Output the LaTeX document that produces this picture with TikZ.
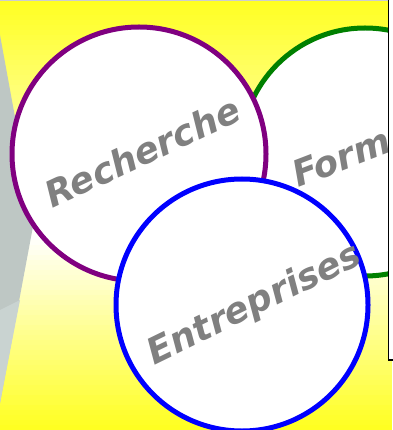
\documentclass[tikz,border=0pt]{standalone}
\usepackage{fontspec}
\setmainfont{DejaVu Sans}
\definecolor{bgyellow}{RGB}{255,255,30}
\definecolor{graydark}{RGB}{190,199,196}
\definecolor{graylight}{RGB}{201,211,209}
\definecolor{ringpurple}{RGB}{128,0,128}
\definecolor{ringgreen}{RGB}{0,128,0}
\definecolor{ringblue}{RGB}{0,0,255}
\definecolor{labelgray}{RGB}{128,128,128}
\definecolor{topline}{RGB}{205,205,205}
\begin{document}
\begin{tikzpicture}[x=1pt,y=-1pt,
  ring/.style={circle,fill=white,line width=5pt,inner sep=0pt,outer sep=0pt},
  label/.style={text=labelgray,font=\fontsize{36}{36}\selectfont\bfseries\itshape,inner sep=0pt}]
\useasboundingbox (0,0) rectangle (392,430);
% background: yellow - white - yellow
\foreach \i in {0,...,85}{
  \pgfmathsetmacro\ya{\i*5}
  \pgfmathsetmacro\yb{\i*5+5.8}
  \pgfmathtruncatemacro\p{max((235-(\i*5+2.5))/235*100, ((\i*5+2.5)-235)/195*100)}
  \fill[bgyellow!\p!white] (0,\ya) rectangle (392,\yb);
}
\draw[line width=1.5pt,draw=topline] (0,0.5) -- (392,0.5);
% gray chevron
\fill[graydark] (0,35) -- (34,221) -- (0,403) -- cycle;
\fill[graylight] (0,310) -- (20,300) -- (0,403) -- cycle;
% circles
\node[ring,draw=ringgreen,minimum size=248pt] (form) at (365,152) {};
\node[label,rotate=21,anchor=base west] (formtxt) at (298,188) {Form};
\node[ring,draw=ringpurple,minimum size=254pt] (rech) at (139,154) {};
\node[label,rotate=25,anchor=base] (rechtxt) at (148,164) {Recherche};
\node[ring,draw=ringblue,minimum size=252pt] (entr) at (242,305) {};
\node[label,rotate=26,anchor=base] (entrtxt) at (259,314) {Entreprises};
% right box
\draw[fill=white,line width=1.5pt] (388.5,-5) rectangle (400,360);
\end{tikzpicture}
\end{document}
